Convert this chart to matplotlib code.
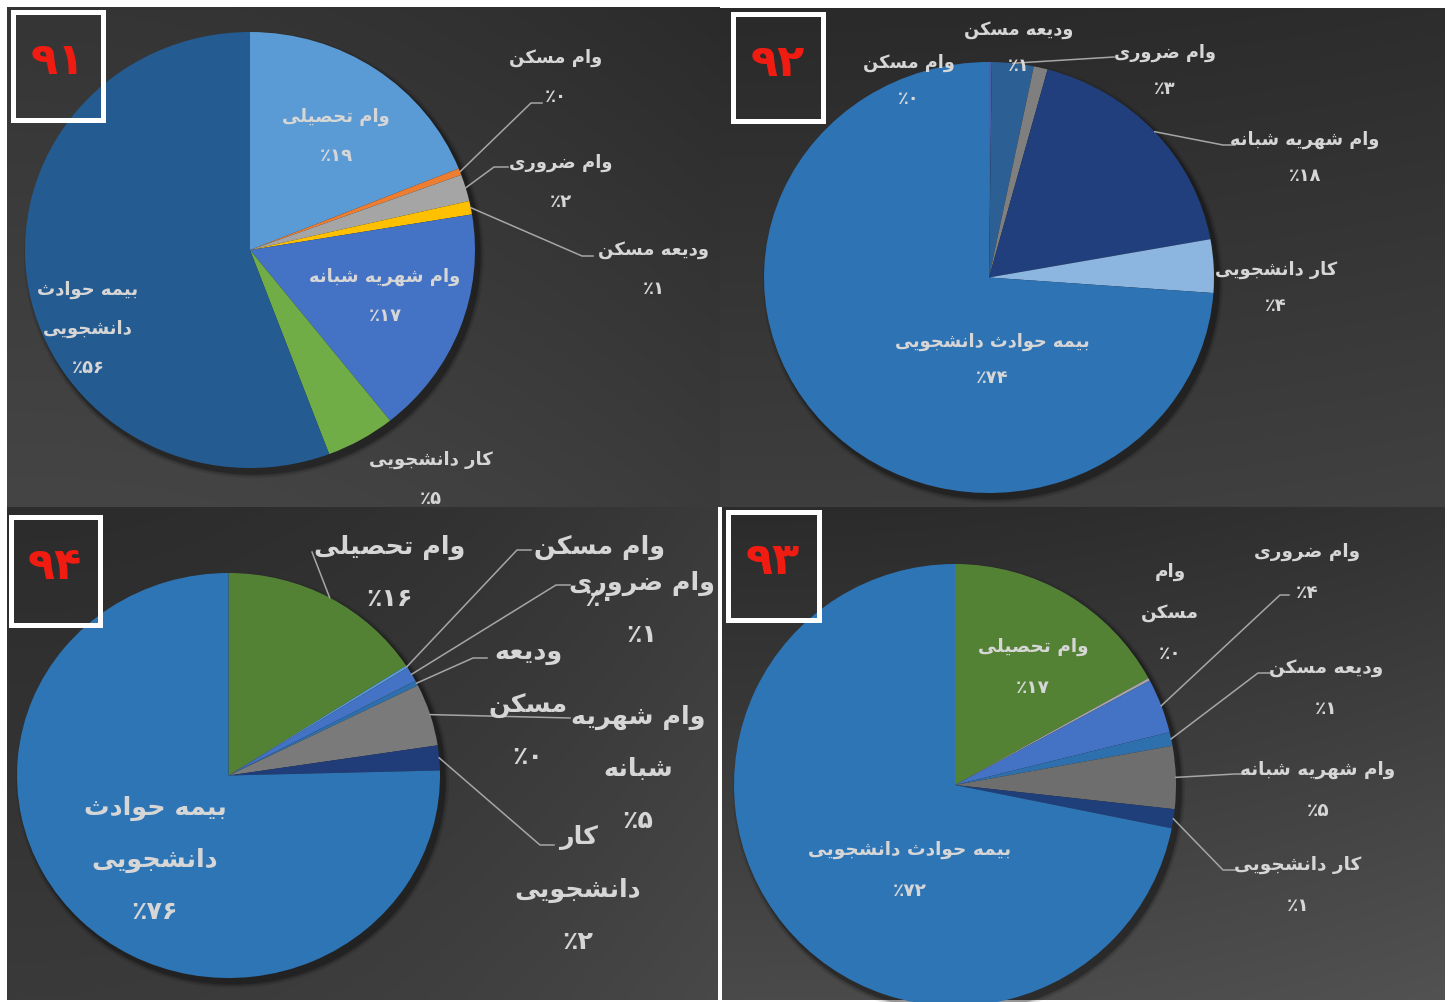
import numpy as np
import matplotlib
matplotlib.use("Agg")
import matplotlib.pyplot as plt
from matplotlib.patches import Rectangle, Ellipse

W, H = 1454, 1002
DPI = 100

# ── Data (per year) ───────────────────────────────────────
cats_91 = ["وام تحصیلی", "وام مسکن", "وام ضروری", "ودیعه مسکن",
           "وام شهریه شبانه", "کار دانشجویی", "بیمه حوادث دانشجویی"]
share_91 = [19, 0.5, 2, 1, 17, 5, 56]
colors_91 = ["#5b9bd5", "#ed7d31", "#a5a5a5", "#ffc000", "#4472c4", "#70ad47", "#245c92"]

cats_92 = ["وام مسکن", "وام ضروری", "ودیعه مسکن",
           "وام شهریه شبانه", "کار دانشجویی", "بیمه حوادث دانشجویی"]
share_92 = [0.2, 3, 1, 18, 4, 74]
colors_92 = ["#4a5fa8", "#2c5f93", "#7f7f7f", "#213f7c", "#8cb6e0", "#2e73b4"]

cats_93 = ["وام تحصیلی", "وام مسکن", "وام ضروری", "ودیعه مسکن",
           "وام شهریه شبانه", "کار دانشجویی", "بیمه حوادث دانشجویی"]
share_93 = [17, 0.2, 4, 1, 4.6, 1.4, 72]
colors_93 = ["#548235", "#a5a5a5", "#4472c4", "#2e6fad", "#6e6e6e", "#1f3f7a", "#2e75b6"]

cats_94 = ["وام تحصیلی", "وام مسکن", "وام ضروری", "ودیعه مسکن",
           "وام شهریه شبانه", "کار دانشجویی", "بیمه حوادث دانشجویی"]
share_94 = [16, 0.2, 1.2, 0.4, 5, 2, 76]
colors_94 = ["#548235", "#5b9bd5", "#4472c4", "#2e6fad", "#7a7a7a", "#203d79", "#2e75b6"]

years = ["91", "92", "93", "94"]

# ── Minimal Persian shaping (matplotlib has no bidi / joining) ──
FORMS = {
    "ا": "\ufe8d\ufe8e", "د": "\ufea9\ufeaa", "ر": "\ufead\ufeae", "و": "\ufeed\ufeee",
    "ب": "\ufe8f\ufe90\ufe91\ufe92", "ت": "\ufe95\ufe96\ufe97\ufe98",
    "ث": "\ufe99\ufe9a\ufe9b\ufe9c", "ج": "\ufe9d\ufe9e\ufe9f\ufea0",
    "ح": "\ufea1\ufea2\ufea3\ufea4", "س": "\ufeb1\ufeb2\ufeb3\ufeb4",
    "ش": "\ufeb5\ufeb6\ufeb7\ufeb8", "ص": "\ufeb9\ufeba\ufebb\ufebc",
    "ض": "\ufebd\ufebe\ufebf\ufec0", "ع": "\ufec9\ufeca\ufecb\ufecc",
    "ل": "\ufedd\ufede\ufedf\ufee0", "م": "\ufee1\ufee2\ufee3\ufee4",
    "ن": "\ufee5\ufee6\ufee7\ufee8", "ه": "\ufee9\ufeea\ufeeb\ufeec",
    "ک": "\ufb8e\ufb8f\ufb90\ufb91", "ی": "\ufbfc\ufbfd\ufbfe\ufbff",
}
FA_DIGITS = str.maketrans("0123456789", "۰۱۲۳۴۵۶۷۸۹")


def shape(text):
    out = []
    for i, ch in enumerate(text):
        f = FORMS.get(ch)
        if f is None:
            out.append(ch)
            continue
        prev = text[i - 1] if i > 0 else ""
        nxt = text[i + 1] if i + 1 < len(text) else ""
        jp = len(FORMS.get(prev, "")) == 4
        jn = len(f) == 4 and nxt in FORMS
        out.append(f[3] if (jp and jn) else f[1] if jp else f[2] if jn else f[0])
    return "".join(reversed(out))


def pct(v):
    return "٪" + str(int(round(v))).translate(FA_DIGITS)


# ── Layout (pixels, origin top-left) ──────────────────────
pie_box = {  # x0, y0, x1, y1
    "91": (25, 32, 475, 468),
    "92": (764, 62, 1214, 493),
    "93": (734, 564, 1176, 1006),
    "94": (17, 573, 440, 978),
}
title_box = {
    "91": (12.5, 11.5, 102.5, 119.5),
    "92": (732.5, 13.5, 822.5, 120.5),
    "93": (727.5, 511.5, 818.5, 619.5),
    "94": (10.5, 516.5, 99.5, 624.5),
}
text_style = {"91": (13, 39), "92": (12.8, 36), "93": (13.3, 41), "94": (18.3, 52)}

# first-line centre, words on first line (None = single line), leader elbows
label_91 = [((336, 117), None, None),
            ((556, 58), None, [(542, 103), (531, 103)]),
            ((561, 163), None, [(508, 167), (494, 167)]),
            ((654, 250), None, [(593, 256), (582, 256)]),
            ((385, 277), None, None),
            ((431, 460), None, None),
            ((88, 290), 2, None)]
label_92 = [((909, 63), None, None),
            ((1165, 53), None, [(1114, 57)]),
            ((1019, 30), None, None),
            ((1305, 140), None, [(1235, 145), (1223, 145)]),
            ((1276, 270), None, None),
            ((992, 342), None, None)]
label_93 = [((1033, 647), None, None),
            ((1170, 572), 1, None),
            ((1307, 552), None, [(1289, 595), (1280, 595)]),
            ((1326, 668), None, [(1270, 673), (1258, 673)]),
            ((1318, 770), None, [(1244, 774), (1235, 774)]),
            ((1298, 865), None, [(1235, 870), (1223, 870)]),
            ((910, 850), None, None)]
label_94 = [((390, 547), None, [(312, 552)]),
            ((600, 547), None, [(531, 550), (517, 550)]),
            ((642, 583), None, [(570, 585), (556, 585)]),
            ((528, 653), 1, [(487, 658), (473, 658)]),
            ((638, 717), 2, [(570, 718)]),
            ((578, 838), 1, [(554, 845), (540, 845)]),
            ((155, 808), 2, None)]

panels = {
    "91": (cats_91, share_91, colors_91, label_91),
    "92": (cats_92, share_92, colors_92, label_92),
    "93": (cats_93, share_93, colors_93, label_93),
    "94": (cats_94, share_94, colors_94, label_94),
}

# ── Figure & background ───────────────────────────────────
fig = plt.figure(figsize=(W / DPI, H / DPI), dpi=DPI)
fig.patch.set_facecolor("white")


def pixel_axes(zorder):
    a = fig.add_axes([0, 0, 1, 1], zorder=zorder)
    a.set_xlim(0, W)
    a.set_ylim(H, 0)
    a.axis("off")
    return a


back = pixel_axes(0)
front = pixel_axes(3)


def gradient(extent, c_top, c_bot, c_right):
    x0, x1, y0, y1 = extent
    yy, xx = np.mgrid[0:1:200j, 0:1:200j]
    top, bot, right = (np.array(matplotlib.colors.to_rgb(c)) for c in (c_top, c_bot, c_right))
    img = top * (1 - yy[..., None]) + bot * yy[..., None]
    img = img + (right - top) * (xx[..., None] ** 2) * 0.6
    back.imshow(np.clip(img, 0, 1), extent=(x0, x1, y1, y0), aspect="auto")


gradient((7, 720, 7, 507), "#353535", "#454545", "#242424")
gradient((720, 1445, 8, 507), "#2a2a2a", "#3e3e3e", "#2f2f2f")
gradient((7, 718, 507, 1000), "#2c2c2c", "#3a3a3a", "#444444")
gradient((722, 1445, 507, 1000), "#2b2b2b", "#4a4a4a", "#383838")
back.set_xlim(0, W)
back.set_ylim(H, 0)

# soft drop shadow under each pie
for x0, y0, x1, y1 in pie_box.values():
    for grow, alpha in ((10, 0.10), (6, 0.15), (3, 0.22)):
        back.add_patch(Ellipse(((x0 + x1) / 2 + 4, (y0 + y1) / 2 + 5),
                               x1 - x0 + grow, y1 - y0 + grow,
                               facecolor="black", edgecolor="none", alpha=alpha))

# ── Pies ──────────────────────────────────────────────────
to_px = front.transData.inverted()
for year, (cats, shares, colors, labels) in panels.items():
    x0, y0, x1, y1 = pie_box[year]
    ax = fig.add_axes([x0 / W, 1 - y1 / H, (x1 - x0) / W, (y1 - y0) / H], zorder=1)
    wedges, _ = ax.pie(shares, colors=colors, startangle=90, counterclock=False,
                       wedgeprops=dict(linewidth=0))
    ax.set_aspect("auto")
    ax.set_xlim(-1, 1)
    ax.set_ylim(-1, 1)
    ax.axis("off")

    fs, pitch = text_style[year]
    for cat, v, w, (pos, brk, leader) in zip(cats, shares, wedges, labels):
        words = cat.split(" ")
        lines = [cat] if brk is None else [" ".join(words[:brk]), " ".join(words[brk:])]
        lines = [shape(s) for s in lines] + [pct(v)]
        for k, s in enumerate(lines):
            front.text(pos[0], pos[1] + k * pitch, s, ha="center", va="center",
                       fontsize=fs, color="#d6d6d6", fontweight="bold", family="DejaVu Sans")
        if leader:
            mid = np.deg2rad((w.theta1 + w.theta2) / 2)
            edge = to_px.transform(ax.transData.transform((np.cos(mid), np.sin(mid))))
            pts = np.array(leader + [tuple(edge)])
            front.plot(pts[:, 0], pts[:, 1], color="#a6a6a6", lw=1.1)

# ── Year boxes ────────────────────────────────────────────
for year in years:
    x0, y0, x1, y1 = title_box[year]
    front.add_patch(Rectangle((x0, y0), x1 - x0, y1 - y0, fill=False,
                              edgecolor="white", lw=3.6))
    front.text((x0 + x1) / 2, (y0 + y1) / 2 - 4, year.translate(FA_DIGITS),
               ha="center", va="center", fontsize=32, color="#f01c12",
               fontweight="bold", family="DejaVu Sans")

fig.savefig("out.png", dpi=DPI)
